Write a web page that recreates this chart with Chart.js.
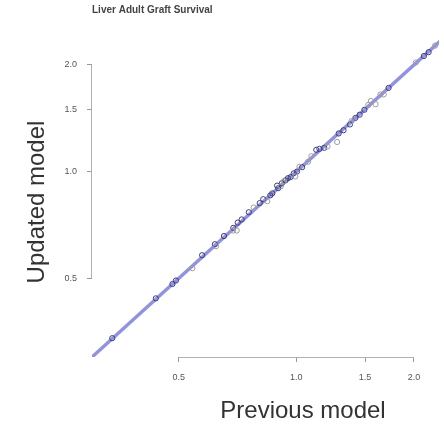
<!DOCTYPE html>
<html>
<head>
<meta charset="utf-8">
<script src="https://cdn.jsdelivr.net/npm/chart.js@4"></script>
<style>
  html, body { margin: 0; padding: 0; background: #fff; }
  #wrap { width: 444px; height: 424px; }
</style>
</head>
<body>
<div id="wrap"><canvas id="c" width="444" height="424"></canvas></div>
<script>
// values (log-log axes)
var chartTitle = 'Liver Adult Graft Survival';
var xTitle = 'Previous model';
var yTitle = 'Updated model';
var xTicks = [0.5, 1.0, 1.5, 2.0];
var yTicks = [0.5, 1.0, 1.5, 2.0];

// points sitting on the line (dark)
var prevDark = [0.338, 0.437, 0.482, 0.492, 0.574, 0.619, 0.653, 0.690, 0.708, 0.725, 0.756, 0.806, 0.823,
  0.858, 0.868, 0.893, 0.899, 0.918, 0.939, 0.952, 0.967, 0.985, 1.004, 1.035, 1.125, 1.146, 1.179,
  1.284, 1.321, 1.372, 1.417, 1.453, 1.494, 1.723, 2.121, 2.182];
var updDark = [0.339, 0.439, 0.482, 0.493, 0.581, 0.624, 0.658, 0.694, 0.718, 0.733, 0.768, 0.815, 0.836,
  0.857, 0.868, 0.913, 0.898, 0.927, 0.945, 0.958, 0.965, 0.989, 1.000, 1.029, 1.152, 1.159, 1.167,
  1.281, 1.308, 1.358, 1.417, 1.447, 1.494, 1.722, 2.118, 2.172];

// lighter points, mostly a little off the line
var prevLight = [0.542, 0.623, 0.689, 0.704, 0.778, 0.843, 0.913, 0.930, 0.994, 1.019, 1.072, 1.093,
  1.202, 1.272, 1.385, 1.529, 1.552, 1.596, 1.642, 1.674, 2.023, 2.266];
var updLight = [0.534, 0.616, 0.682, 0.682, 0.792, 0.825, 0.909, 0.939, 0.969, 1.032, 1.066, 1.105,
  1.177, 1.212, 1.388, 1.542, 1.582, 1.549, 1.650, 1.650, 2.031, 2.266];

// identity reference line
var refX = [0.2, 3.0];
var refY = [0.2, 3.0];

function pts(xs, ys) {
  return xs.map(function (v, i) { return { x: v, y: ys[i] }; });
}

var fontFam = 'Liberation Sans, Arial, sans-serif';

var decor = {
  id: 'decor',
  afterDraw: function (chart) {
    var ctx = chart.ctx;
    var xs = chart.scales.x, ys = chart.scales.y;
    var a = chart.chartArea;
    ctx.save();
    // axis lines only between first and last tick
    ctx.strokeStyle = '#b0b0b0';
    ctx.lineWidth = 1;
    ctx.beginPath();
    ctx.moveTo(xs.getPixelForValue(xTicks[0]), a.bottom + 0.5);
    ctx.lineTo(xs.getPixelForValue(xTicks[xTicks.length - 1]), a.bottom + 0.5);
    ctx.moveTo(a.left - 0.5, ys.getPixelForValue(yTicks[0]));
    ctx.lineTo(a.left - 0.5, ys.getPixelForValue(yTicks[yTicks.length - 1]));
    ctx.stroke();

    // title
    ctx.fillStyle = '#444';
    ctx.font = 'bold 10px ' + fontFam;
    ctx.textAlign = 'left';
    ctx.textBaseline = 'middle';
    ctx.fillText(chartTitle, a.left, 10);

    // axis titles
    ctx.fillStyle = '#333';
    ctx.font = '24px ' + fontFam;
    ctx.textAlign = 'center';
    ctx.fillText(xTitle, 303, 411);
    ctx.save();
    ctx.translate(37, 202);
    ctx.rotate(-Math.PI / 2);
    ctx.fillText(yTitle, 0, 0);
    ctx.restore();
    ctx.restore();
  }
};

function axisOpts(tickVals, min, max, fit) {
  return {
    type: 'logarithmic',
    min: min,
    max: max,
    afterBuildTicks: function (s) {
      s.ticks = tickVals.map(function (v) { return { value: v }; });
    },
    afterFit: fit,
    border: { display: false },
    grid: { drawOnChartArea: false, drawTicks: true, tickLength: 5, color: '#999' },
    ticks: {
      autoSkip: false,
      maxRotation: 0,
      padding: 10,
      color: '#555',
      font: { family: fontFam, size: 9 },
      callback: function (v) { return Number(v).toFixed(1); }
    }
  };
}

new Chart(document.getElementById('c'), {
  type: 'scatter',
  data: {
    datasets: [
      {
        label: 'light',
        data: pts(prevLight, updLight),
        order: 1,
        pointRadius: 2.6,
        pointBorderWidth: 1,
        pointBackgroundColor: 'rgba(0,0,0,0)',
        pointBorderColor: '#9c9c9c'
      },
      {
        label: 'dark',
        data: pts(prevDark, updDark),
        order: 2,
        pointRadius: 2.6,
        pointBorderWidth: 1,
        pointBackgroundColor: 'rgba(0,0,0,0)',
        pointBorderColor: '#3c3c7c'
      },
      {
        type: 'line',
        label: 'ref',
        data: pts(refX, refY),
        order: 3,
        borderColor: 'rgba(110,110,215,0.75)',
        borderWidth: 3.5,
        pointRadius: 0,
        fill: false
      }
    ]
  },
  options: {
    responsive: false,
    animation: false,
    layout: { padding: { top: 30, right: 0, left: 0, bottom: 0 } },
    plugins: {
      legend: { display: false },
      title: { display: false },
      tooltip: { enabled: false }
    },
    scales: {
      x: axisOpts(xTicks, 0.314, 2.319, function (s) {
        s.height = 67; s.paddingLeft = 0; s.paddingRight = 0;
      }),
      y: axisOpts(yTicks, 0.315, 2.508, function (s) {
        s.width = 92; s.paddingTop = 0; s.paddingBottom = 0;
      })
    }
  },
  plugins: [decor]
});
</script>
</body>
</html>
